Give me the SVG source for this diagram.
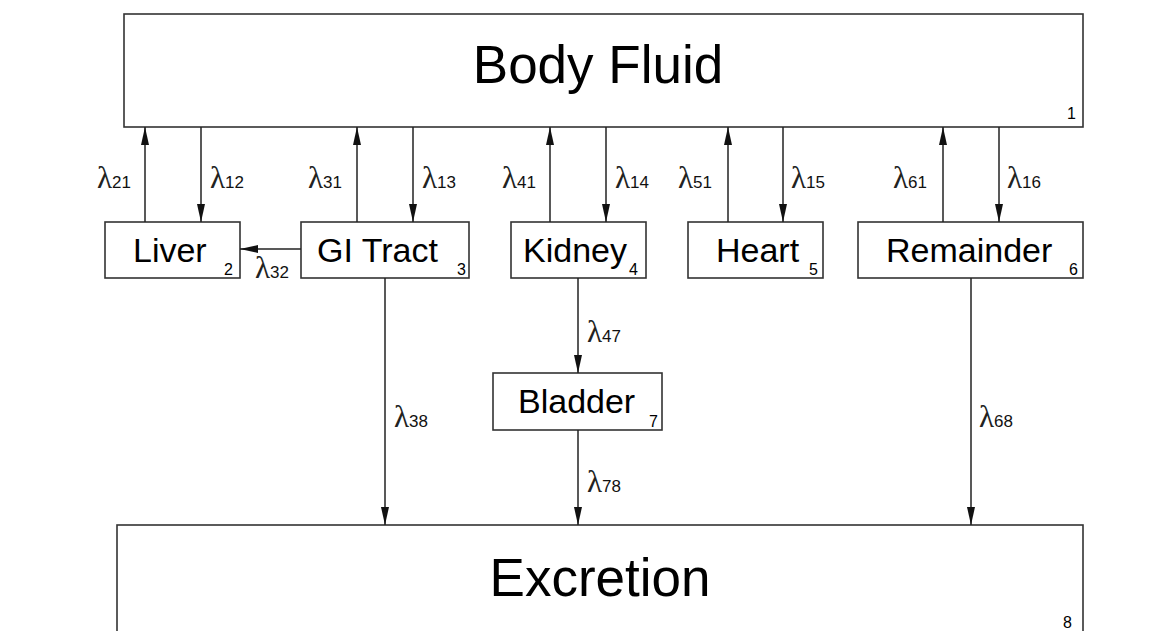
<svg xmlns="http://www.w3.org/2000/svg" width="1165" height="631" viewBox="0 0 1165 631">
<defs>
<marker id="ah" markerUnits="userSpaceOnUse" markerWidth="19" markerHeight="9" refX="18" refY="4" orient="auto">
<path d="M0,0 L18,4 L0,8 z" fill="#111"/>
</marker>
<style>
.box{fill:#fff;stroke:#333;stroke-width:1.6}
.big{font-family:"Liberation Sans",Arial,sans-serif;font-size:53px;fill:#000}
.lbl{font-family:"Liberation Sans",Arial,sans-serif;font-size:34px;fill:#000}
.num{font-family:"Liberation Sans",Arial,sans-serif;font-size:16px;fill:#000}
.con line{stroke:#222;stroke-width:1.5;marker-end:url(#ah)}
.lam{font-family:"Liberation Serif","Times New Roman",serif;font-size:31px;fill:#222}
.sub{font-family:"Liberation Sans",Arial,sans-serif;font-size:17px;fill:#111}
</style>
</defs>
<rect width="1165" height="631" fill="#fff"/>

<g id="body-fluid">
<rect class="box" x="124" y="14" width="959" height="113"/>
<text class="big" x="598" y="83" text-anchor="middle">Body Fluid</text>
<text class="num" x="1067" y="119">1</text>
</g>
<g id="liver">
<rect class="box" x="105" y="222" width="135" height="56"/>
<text class="lbl" x="133" y="262">Liver</text>
<text class="num" x="224" y="275">2</text>
</g>
<g id="gi-tract">
<rect class="box" x="301" y="222" width="168" height="56"/>
<text class="lbl" x="317" y="262">GI Tract</text>
<text class="num" x="457" y="275">3</text>
</g>
<g id="kidney">
<rect class="box" x="511" y="222" width="135" height="56"/>
<text class="lbl" x="523" y="262">Kidney</text>
<text class="num" x="629" y="275">4</text>
</g>
<g id="heart">
<rect class="box" x="688" y="222" width="135" height="56"/>
<text class="lbl" x="716" y="262">Heart</text>
<text class="num" x="809" y="275">5</text>
</g>
<g id="remainder">
<rect class="box" x="858" y="222" width="225" height="56"/>
<text class="lbl" x="886" y="262">Remainder</text>
<text class="num" x="1069" y="275">6</text>
</g>
<g id="bladder">
<rect class="box" x="493" y="373" width="169" height="57"/>
<text class="lbl" x="518" y="413">Bladder</text>
<text class="num" x="649" y="427">7</text>
</g>
<g id="excretion">
<rect class="box" x="117" y="525" width="966" height="150"/>
<text class="big" x="600" y="596" text-anchor="middle">Excretion</text>
<text class="num" x="1063" y="628">8</text>
</g>

<g id="connectors" class="con">
<line x1="145" y1="222" x2="145" y2="127"/>
<line x1="201" y1="127" x2="201" y2="222"/>
<line x1="357" y1="222" x2="357" y2="127"/>
<line x1="413" y1="127" x2="413" y2="222"/>
<line x1="550" y1="222" x2="550" y2="127"/>
<line x1="606" y1="127" x2="606" y2="222"/>
<line x1="728" y1="222" x2="728" y2="127"/>
<line x1="783" y1="127" x2="783" y2="222"/>
<line x1="943" y1="222" x2="943" y2="127"/>
<line x1="999" y1="127" x2="999" y2="222"/>
<line x1="301" y1="249" x2="240" y2="249"/>
<line x1="578" y1="278" x2="578" y2="373"/>
<line x1="385" y1="278" x2="385" y2="525"/>
<line x1="578" y1="430" x2="578" y2="525"/>
<line x1="971" y1="278" x2="971" y2="525"/>
</g>

<g id="labels">
<text x="97" y="188"><tspan class="lam">λ</tspan><tspan class="sub">21</tspan></text>
<text x="210" y="188"><tspan class="lam">λ</tspan><tspan class="sub">12</tspan></text>
<text x="308" y="188"><tspan class="lam">λ</tspan><tspan class="sub">31</tspan></text>
<text x="422" y="188"><tspan class="lam">λ</tspan><tspan class="sub">13</tspan></text>
<text x="502" y="188"><tspan class="lam">λ</tspan><tspan class="sub">41</tspan></text>
<text x="615" y="188"><tspan class="lam">λ</tspan><tspan class="sub">14</tspan></text>
<text x="678" y="188"><tspan class="lam">λ</tspan><tspan class="sub">51</tspan></text>
<text x="791" y="188"><tspan class="lam">λ</tspan><tspan class="sub">15</tspan></text>
<text x="893" y="188"><tspan class="lam">λ</tspan><tspan class="sub">61</tspan></text>
<text x="1007" y="188"><tspan class="lam">λ</tspan><tspan class="sub">16</tspan></text>
<text x="255" y="278"><tspan class="lam">λ</tspan><tspan class="sub">32</tspan></text>
<text x="587" y="342"><tspan class="lam">λ</tspan><tspan class="sub">47</tspan></text>
<text x="394" y="427"><tspan class="lam">λ</tspan><tspan class="sub">38</tspan></text>
<text x="587" y="492"><tspan class="lam">λ</tspan><tspan class="sub">78</tspan></text>
<text x="979" y="427"><tspan class="lam">λ</tspan><tspan class="sub">68</tspan></text>
</g>
</svg>
